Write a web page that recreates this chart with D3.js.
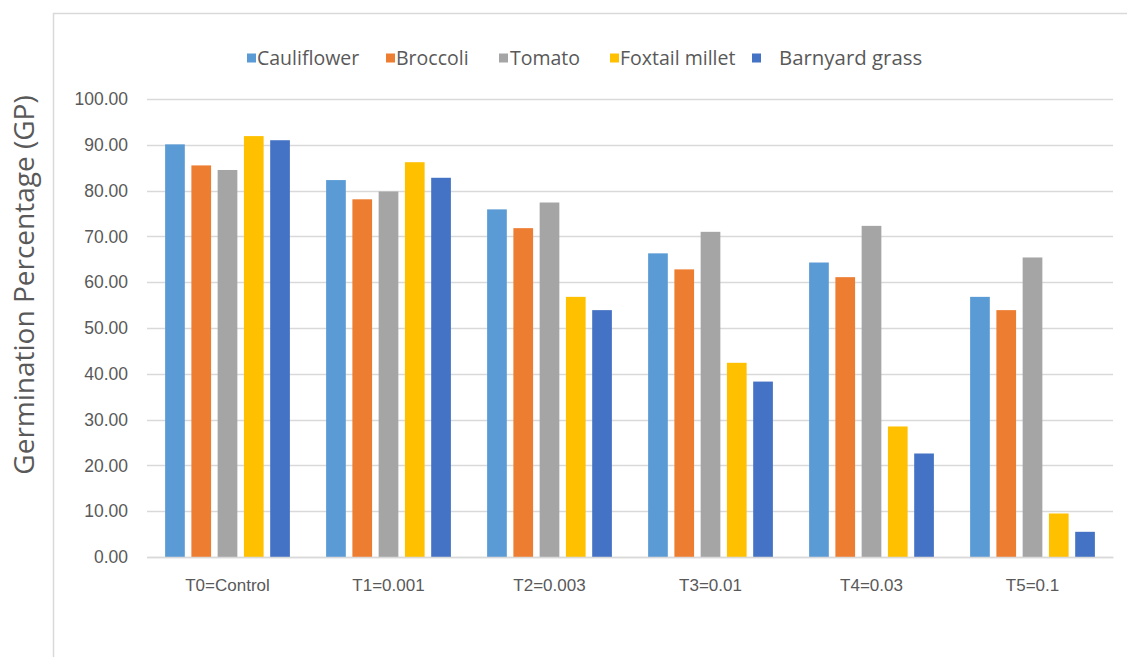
<!DOCTYPE html>
<html>
<head>
<meta charset="utf-8">
<script src="https://cdn.jsdelivr.net/npm/d3@7"></script>
<style>
  html, body { margin: 0; padding: 0; background: #fff; }
  svg { display: block; font-family: "Open Sans", "Noto Sans", sans-serif; }
</style>
</head>
<body>
<svg id="chart" width="1127" height="657"></svg>
<script>
// Treatment levels (x categories)
const categories = ["T0=Control", "T1=0.001", "T2=0.003", "T3=0.01", "T4=0.03", "T5=0.1"];
// Crops / weeds (series)
const seriesNames = ["Cauliflower", "Broccoli", "Tomato", "Foxtail millet", "Barnyard grass"];
const seriesColors = ["#5B9BD5", "#ED7D31", "#A5A5A5", "#FFC000", "#4472C4"];

// Germination percentage per series, one value per treatment
const cauliflower   = [90.1, 82.3, 75.9, 66.3, 64.3, 56.8];
const broccoli      = [85.5, 78.1, 71.8, 62.8, 61.1, 53.9];
const tomato        = [84.5, 79.8, 77.4, 71.0, 72.3, 65.4];
const foxtailMillet = [91.9, 86.2, 56.8, 42.4, 28.5, 9.5];
const barnyardGrass = [91.0, 82.8, 53.9, 38.3, 22.6, 5.5];

const yTicks = [0, 10, 20, 30, 40, 50, 60, 70, 80, 90, 100];

const seriesValues = [cauliflower, broccoli, tomato, foxtailMillet, barnyardGrass];

const svg = d3.select("#chart");

// Outer chart frame
svg.append("path")
  .attr("d", "M53.5,657 V13.5 H1127")
  .attr("fill", "none")
  .attr("stroke", "#d9d9d9")
  .attr("stroke-width", 1.5);

const plot = { left: 147, right: 1113, top: 99, bottom: 557 };

const y = d3.scaleLinear().domain([0, 100]).range([plot.bottom, plot.top]);
const x0 = d3.scaleBand().domain(categories).range([plot.left, plot.right])
  .paddingInner(0.225).paddingOuter(0.1125);
const x1 = d3.scaleBand().domain(seriesNames).range([0, x0.bandwidth()])
  .paddingInner(0.25).paddingOuter(0);

// Horizontal gridlines
svg.append("g")
  .selectAll("line")
  .data(yTicks)
  .join("line")
  .attr("x1", plot.left).attr("x2", plot.right)
  .attr("y1", d => Math.round(y(d)) + 0.5).attr("y2", d => Math.round(y(d)) + 0.5)
  .attr("stroke", "#d9d9d9")
  .attr("stroke-width", 1.3);

// Y axis labels
const yAxis = d3.axisLeft(y).tickValues(yTicks).tickFormat(d3.format(".2f")).tickSize(0).tickPadding(0);
const yG = svg.append("g").attr("transform", `translate(${plot.left - 19},0)`).call(yAxis);
yG.select(".domain").remove();
yG.selectAll("text")
  .attr("fill", "#595959")
  .style("font-size", "17.5px");

// Bars
const groups = svg.append("g")
  .selectAll("g")
  .data(categories)
  .join("g")
  .attr("transform", d => `translate(${x0(d)},0)`);

groups.selectAll("rect")
  .data((c, ci) => seriesNames.map((s, si) => ({ s, si, v: seriesValues[si][ci] })))
  .join("rect")
  .attr("x", d => x1(d.s))
  .attr("width", x1.bandwidth())
  .attr("y", d => y(d.v))
  .attr("height", d => y(0) - y(d.v))
  .attr("fill", d => seriesColors[d.si]);

// X axis line and labels
const xAxis = d3.axisBottom(x0).tickSize(0).tickPadding(0);
const xG = svg.append("g").attr("transform", `translate(0,${plot.bottom})`).call(xAxis);
xG.select(".domain").attr("stroke", "#d9d9d9").attr("stroke-width", 1.3);
xG.selectAll("text")
  .attr("fill", "#595959")
  .attr("dy", "0")
  .attr("y", 34)
  .style("font-size", "17px");

// Y axis title
svg.append("text")
  .attr("transform", "translate(24,285) rotate(-90)")
  .attr("text-anchor", "middle")
  .attr("dy", "0.35em")
  .attr("fill", "#595959")
  .style("font-size", "28px")
  .text("Germination Percentage (GP)");

// Legend
const legendX = [247, 386, 499, 610, 752];
const legendTextGap = [10, 10, 11, 10, 27];
const legend = svg.append("g")
  .selectAll("g")
  .data(seriesNames)
  .join("g")
  .attr("transform", (d, i) => `translate(${legendX[i]},58)`);
legend.append("rect")
  .attr("x", 0).attr("y", -4.5)
  .attr("width", 9).attr("height", 9)
  .attr("fill", (d, i) => seriesColors[i]);
legend.append("text")
  .attr("x", (d, i) => legendTextGap[i])
  .attr("y", 0)
  .attr("dy", "0.35em")
  .attr("fill", "#595959")
  .style("font-size", (d, i) => i === 4 ? "20.4px" : "19.5px")
  .text(d => d);
</script>
</body>
</html>
